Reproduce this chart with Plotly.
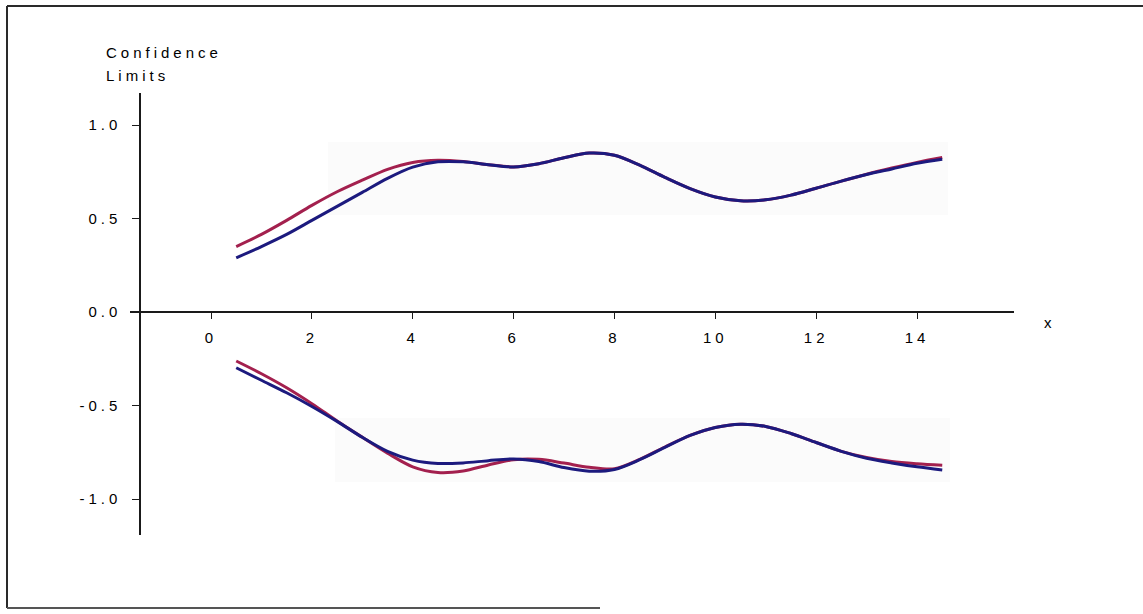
import plotly.graph_objects as go

W, H = 1143, 614

# ---- data ----
x_vals = [0.5, 1.0, 1.5, 2.0, 2.5, 3.0, 3.5, 4.0, 4.5, 5.0, 5.5, 6.0, 6.5, 7.0, 7.5,
          8.0, 8.5, 9.0, 9.5, 10.0, 10.5, 11.0, 11.5, 12.0, 12.5, 13.0, 13.5, 14.0, 14.5]

upper_red = [0.35, 0.415, 0.49, 0.57, 0.643, 0.705, 0.763, 0.80, 0.812, 0.805, 0.788, 0.776,
             0.793, 0.825, 0.85, 0.838, 0.785, 0.72, 0.66, 0.615, 0.595, 0.60, 0.625,
             0.662, 0.70, 0.737, 0.77, 0.80, 0.826]
upper_blue = [0.29, 0.35, 0.415, 0.49, 0.565, 0.64, 0.715, 0.775, 0.803, 0.803, 0.788, 0.776,
              0.793, 0.825, 0.85, 0.838, 0.785, 0.72, 0.66, 0.615, 0.595, 0.60, 0.625,
              0.662, 0.70, 0.735, 0.765, 0.795, 0.817]
lower_red = [-0.262, -0.33, -0.405, -0.49, -0.583, -0.67, -0.755, -0.828, -0.858, -0.85,
             -0.818, -0.79, -0.788, -0.808, -0.83, -0.838, -0.788, -0.722, -0.66, -0.618,
             -0.60, -0.612, -0.65, -0.698, -0.745, -0.778, -0.80, -0.812, -0.82]
lower_blue = [-0.298, -0.365, -0.432, -0.505, -0.585, -0.67, -0.745, -0.792, -0.81, -0.807,
              -0.795, -0.786, -0.80, -0.832, -0.851, -0.842, -0.79, -0.724, -0.66, -0.618,
              -0.60, -0.612, -0.65, -0.698, -0.745, -0.782, -0.807, -0.828, -0.845]

x_ticks = [0, 2, 4, 6, 8, 10, 12, 14]
x_tick_labels = ["0", "2", "4", "6", "8", "10", "12", "14"]
y_ticks = [1.0, 0.5, 0.0, -0.5, -1.0]
y_tick_labels = ["1.0", "0.5", "0.0", "-0.5", "-1.0"]

RED = "#a3204e"
BLUE = "#1c1a7e"
AXIS = "#1a1a1a"
FONT = dict(family="Liberation Sans, Arial, sans-serif", size=15, color="#000000")


def px(x):
    return x / W


def py(y):
    return 1 - y / H


fig = go.Figure()
for yv, col in [(upper_red, RED), (upper_blue, BLUE), (lower_red, RED), (lower_blue, BLUE)]:
    fig.add_trace(go.Scatter(x=x_vals, y=yv, mode="lines",
                             line=dict(color=col, width=3, shape="spline", smoothing=0.9),
                             hoverinfo="skip", showlegend=False))

# axis pixel layout
x_px0, x_px1 = 130, 1014      # x-axis line extent
x0_px, unit_x = 211, 50.43    # pixel of x=0, pixels per unit
y_px_top, y_px_bot = 93, 535  # y-axis line extent
y0_px, unit_y = 312, 187      # pixel of y=0, pixels per unit

fig.update_layout(
    width=W, height=H,
    margin=dict(l=0, r=0, t=0, b=0),
    paper_bgcolor="white", plot_bgcolor="rgba(0,0,0,0)",
    font=FONT,
    showlegend=False,
    hovermode=False,
    xaxis=dict(
        domain=[px(x_px0), px(x_px1)],
        range=[(x_px0 - x0_px) / unit_x, (x_px1 - x0_px) / unit_x],
        anchor="free", position=py(y0_px),
        showline=True, linecolor=AXIS, linewidth=1.5,
        showgrid=False, zeroline=False,
        ticks="outside", ticklen=6, tickwidth=1.2, tickcolor=AXIS,
        tickvals=x_ticks, ticktext=x_tick_labels, ticklabelstandoff=6,
        tickfont=FONT,
    ),
    yaxis=dict(
        domain=[py(y_px_bot), py(y_px_top)],
        range=[(y0_px - y_px_bot) / unit_y, (y0_px - y_px_top) / unit_y],
        anchor="free", position=px(140),
        showline=True, linecolor=AXIS, linewidth=1.5,
        showgrid=False, zeroline=False,
        ticks="outside", ticklen=7, tickwidth=1.2, tickcolor=AXIS,
        tickvals=y_ticks, ticktext=y_tick_labels, ticklabelstandoff=8,
        tickfont=FONT,
    ),
)

# faint scan-tint background patches behind the curves
for (a, top, c, bot) in [(328, 142, 948, 215), (335, 418, 950, 482)]:
    fig.add_shape(type="rect", xref="paper", yref="paper",
                  x0=px(a), x1=px(c), y0=py(bot), y1=py(top),
                  fillcolor="#fbfbfb", line=dict(width=0), layer="below")

# page frame (left, top, bottom)
frame = dict(color="#2a2a2a", width=2)
fig.add_shape(type="line", xref="paper", yref="paper", x0=px(7), x1=px(7), y0=py(608), y1=py(6), line=frame)
fig.add_shape(type="line", xref="paper", yref="paper", x0=px(7), x1=1, y0=py(6), y1=py(6), line=frame)
fig.add_shape(type="line", xref="paper", yref="paper", x0=px(7), x1=px(600), y0=py(608), y1=py(608),
              line=dict(color="#555555", width=2))

# axis titles
fig.add_annotation(text="Confidence", xref="paper", yref="paper", x=px(104), y=py(52),
                   xanchor="left", yanchor="middle", align="left", showarrow=False, font=FONT)
fig.add_annotation(text="Limits", xref="paper", yref="paper", x=px(104), y=py(75),
                   xanchor="left", yanchor="middle", align="left", showarrow=False, font=FONT)
fig.add_annotation(text="x", xref="paper", yref="paper", x=px(1050), y=py(322),
                   xanchor="center", yanchor="middle", showarrow=False, font=FONT)

post = ("var gd = document.getElementById('{plot_id}');"
        "if (gd) { gd.querySelectorAll('text').forEach(function(t){"
        "t.style.letterSpacing='4px';}); }")
fig.write_html("out.html", config={"displayModeBar": False}, post_script=post)
